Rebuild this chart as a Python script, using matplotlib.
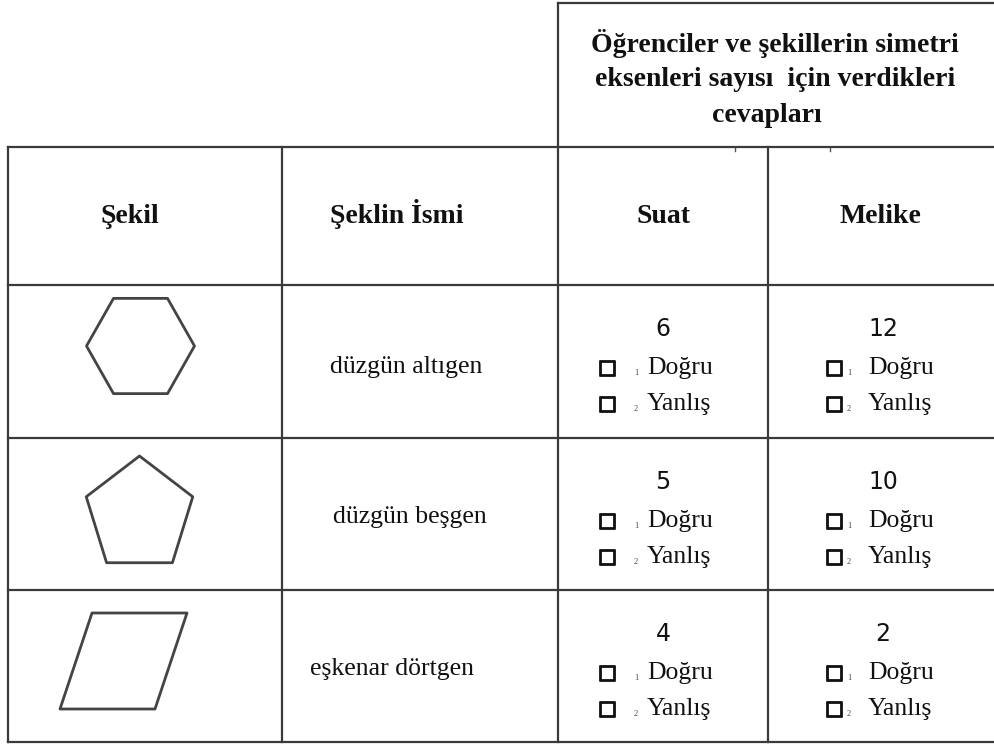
import matplotlib
matplotlib.use("Agg")
import matplotlib.pyplot as plt
import matplotlib.patheffects as pe
import numpy as np
from matplotlib.patches import Polygon

# ---- data ----
header_lines = ["Öğrenciler ve şekillerin simetri",
                "eksenleri sayısı  için verdikleri",
                "cevapları"]
col_headers = ["Şekil", "Şeklin İsmi", "Suat", "Melike"]
shape_names = ["düzgün altıgen", "düzgün beşgen", "eşkenar dörtgen"]
suat_answers = ["6", "5", "4"]
melike_answers = ["12", "10", "2"]
options = ["Doğru", "Yanlış"]

# ---- layout (pixels) ----
W, H = 995, 744
fig = plt.figure(figsize=(W / 100, H / 100), dpi=100)
ax = fig.add_axes([0, 0, 1, 1])
ax.set_xlim(0, W)
ax.set_ylim(H, 0)
ax.axis("off")

LC = "#3a3a3a"
LW = 1.6
xs = [8, 282, 558, 768]
ys = [147, 285, 438, 590, 742]

# top header box
ax.plot([558, 995], [3, 3], color=LC, lw=LW)
ax.plot([558, 558], [3, 147], color=LC, lw=LW)
# grid
for y in ys:
    ax.plot([xs[0], 995], [y, y], color=LC, lw=LW)
for x in xs:
    ax.plot([x, x], [ys[0], ys[-1]], color=LC, lw=LW)
# tiny artifacts
ax.plot([735, 735], [148, 151], color="#555", lw=1)
ax.plot([830, 830], [148, 151], color="#555", lw=1)
ax.plot([724, 724], [76, 82], color="#bbb", lw=1)

serif = "Liberation Serif"
for y, (cx, t) in zip([44, 80, 115], zip([775, 775, 767], header_lines)):
    ax.text(cx, y, t, ha="center", va="center", family=serif,
            weight="bold", fontsize=20, color="#111")

hdr_x = [130, 397, 663, 880]
for x, t in zip(hdr_x, col_headers):
    ax.text(x, 223, t, ha="center", va="baseline", family=serif,
            weight="bold", fontsize=20, color="#111")

# shapes
def regular(cx, cy, rx, ry, n, start):
    a = np.deg2rad(start + 360.0 / n * np.arange(n))
    return np.column_stack([cx + rx * np.cos(a), cy + ry * np.sin(a)])

shapes = [
    regular(140.5, 346, 54, 55, 6, 0),
    regular(139.5, 515, 56, 59, 5, -90),
    np.array([[92, 613], [187, 613], [155, 709], [60, 709]]),
]
for pts in shapes:
    ax.add_patch(Polygon(pts, closed=True, fill=False, ec="#444", lw=2.0,
                         joinstyle="round"))

name_x = [330, 333, 310]
name_y = [367, 517, 669]
for i, name in enumerate(shape_names):
    ax.text(name_x[i], name_y[i], name, ha="left",
            va="center", family=serif, fontsize=18.5, color="#111")

# answers
stroke = [pe.withStroke(linewidth=1.3, foreground="#111")]
cols = [(suat_answers, 663, 598, 36, 49), (melike_answers, 883, 825, 22, 43)]
for i in range(3):
    top = ys[i + 1]
    for answers, cx, bx, sub_dx, word_dx in cols:
        ax.text(cx, top + 44, answers[i], ha="center", va="center",
                family="DejaVu Sans", fontsize=17, color="#111")
        for k, opt in enumerate(options):
            yy = top + 83 + k * 36
            ax.text(bx, yy, "□", ha="left", va="center", family="DejaVu Sans",
                    fontsize=14, color="#111", path_effects=stroke)
            ax.text(bx + sub_dx, yy + 5, str(k + 1), ha="left", va="center",
                    family=serif, fontsize=6, color="#444")
            ax.text(bx + word_dx, yy, opt, ha="left", va="center", family=serif,
                    fontsize=18.5, color="#111")

fig.savefig("out.png", dpi=100, facecolor="white")
